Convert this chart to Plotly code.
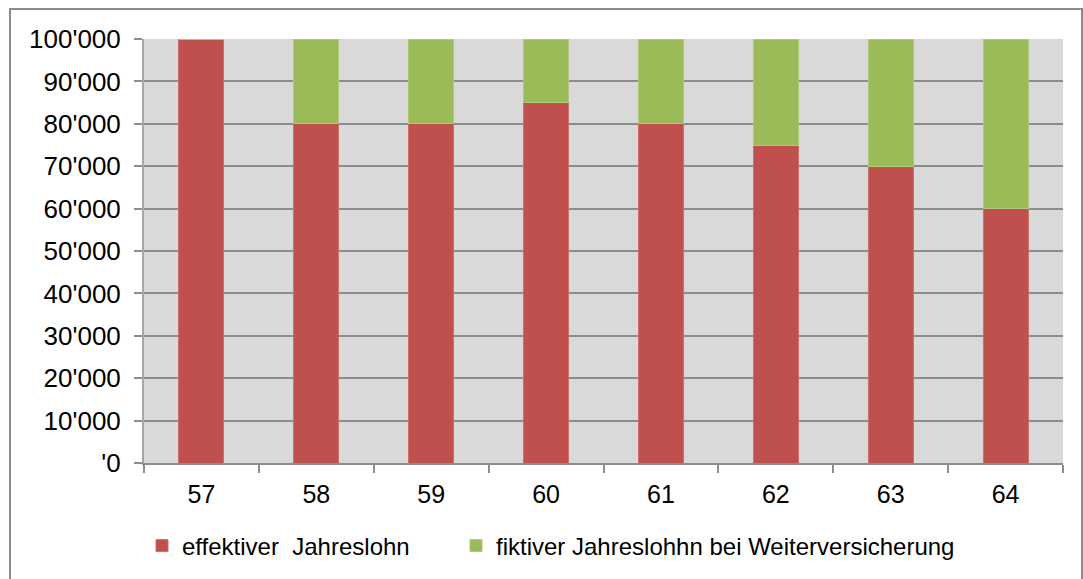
import plotly.graph_objects as go

ages = ["57", "58", "59", "60", "61", "62", "63", "64"]
effektiv = [100000, 80000, 80000, 85000, 80000, 75000, 70000, 60000]
fiktiv = [0, 20000, 20000, 15000, 20000, 25000, 30000, 40000]
y_ticks = [0, 10000, 20000, 30000, 40000, 50000, 60000, 70000, 80000, 90000, 100000]
y_labels = ["'0", "10'000", "20'000", "30'000", "40'000", "50'000", "60'000",
            "70'000", "80'000", "90'000", "100'000"]

RED = "#C0504D"
GREEN = "#9BBB59"
FONT = "Liberation Sans, Arial, sans-serif"

fig = go.Figure()
fig.add_trace(go.Bar(x=ages, y=effektiv, name="effektiver  Jahreslohn",
                     marker=dict(color=RED, line=dict(color="#CD6F6C", width=1)),
                     legend="legend"))
fig.add_trace(go.Bar(x=ages, y=fiktiv, name="fiktiver Jahreslohhn bei Weiterversicherung",
                     marker=dict(color=GREEN, line=dict(color="#AEC97A", width=1)),
                     legend="legend2"))

W, H = 1083, 579
L, R, T, B = 144, 20, 39, 116
pw, ph = W - L - R, H - T - B

leg_common = dict(orientation="h", xanchor="left", yanchor="middle",
                  y=(463 - 546) / ph, font=dict(size=24),
                  bgcolor="rgba(0,0,0,0)")

fig.update_layout(
    width=W, height=H,
    barmode="stack", bargap=0.608,
    margin=dict(l=L, r=R, t=T, b=B, autoexpand=False),
    paper_bgcolor="white", plot_bgcolor="#D9D9D9",
    font=dict(family=FONT, size=24, color="black"),
    showlegend=True,
    legend=dict(x=(142 - L) / pw, **leg_common),
    legend2=dict(x=(456 - L) / pw, **leg_common),
    xaxis=dict(type="category", tickson="boundaries", showgrid=False,
               ticks="outside", ticklen=8, tickcolor="#8C8C8C", tickwidth=2,
               showline=True, linecolor="#8C8C8C", linewidth=2,
               tickfont=dict(size=25), ticklabelstandoff=8),
    yaxis=dict(range=[0, 100000], tickvals=y_ticks, ticktext=y_labels,
               showgrid=True, gridcolor="#8C8C8C", gridwidth=2,
               ticks="outside", ticklen=8, tickcolor="#8C8C8C", tickwidth=2,
               showline=True, linecolor="#A6A6A6", linewidth=2,
               zeroline=False, tickfont=dict(size=26), ticklabelstandoff=8),
)

fig.add_shape(type="rect", xref="paper", yref="paper",
              x0=(10 - L) / pw, x1=(1082 - L) / pw,
              y0=(463 - 582) / ph, y1=(463 - 9) / ph,
              line=dict(color="#8C8C8C", width=2), fillcolor="rgba(0,0,0,0)",
              layer="below")

fig.write_html("out.html", config={"displayModeBar": False},
               post_script="document.body.style.margin='0';")
